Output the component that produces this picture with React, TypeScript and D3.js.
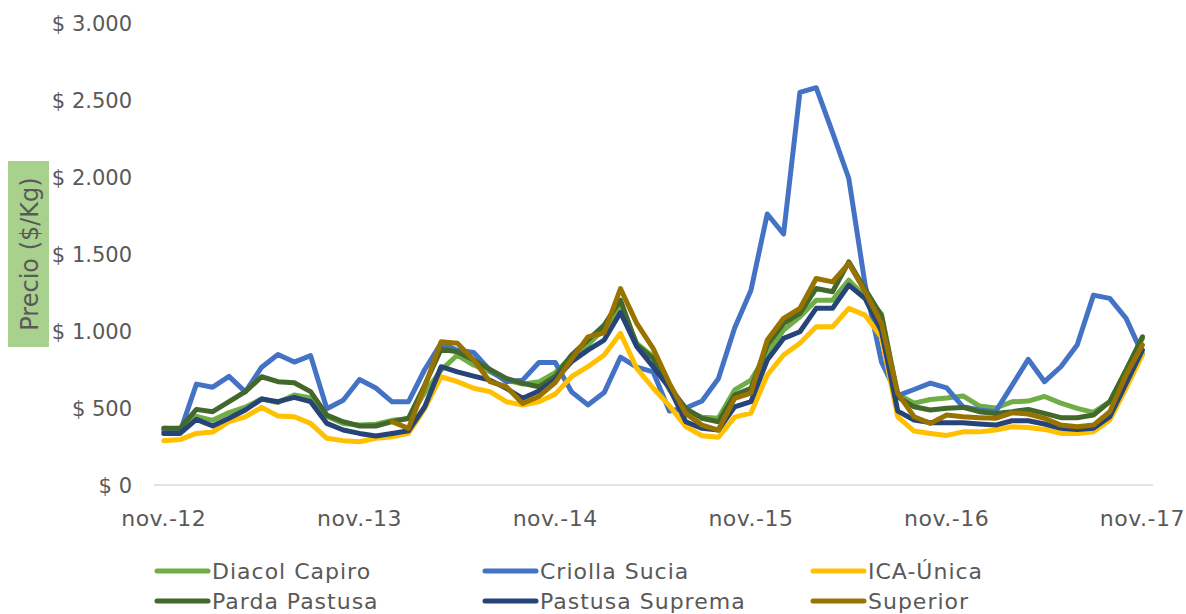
import React, { useEffect, useRef } from "react";
import * as d3 from "d3";

// monthly prices nov-12 .. nov-17 ($/Kg)
const tickLabels = ["nov.-12", "nov.-13", "nov.-14", "nov.-15", "nov.-16", "nov.-17"];
const yTicks = [0, 500, 1000, 1500, 2000, 2500, 3000];

const diacolCapiro = [368, 365, 445, 420, 470, 505, 560, 535, 585, 565, 445, 400, 390, 395, 420, 430, 600, 746, 844, 779, 735, 681, 655, 670, 730, 833, 909, 1017, 1150, 920, 833, 617, 487, 440, 433, 617, 681, 855, 1006, 1092, 1200, 1200, 1330, 1222, 1110, 590, 532, 555, 565, 578, 513, 500, 540, 545, 575, 532, 498, 472, 541, 746, 950];
const criollaSucia = [350, 345, 655, 635, 705, 605, 765, 848, 798, 840, 495, 550, 685, 630, 540, 540, 750, 920, 875, 860, 746, 671, 681, 795, 795, 605, 520, 600, 830, 765, 735, 480, 500, 545, 690, 1020, 1265, 1760, 1630, 2550, 2580, 2290, 1990, 1300, 800, 580, 620, 662, 630, 508, 487, 476, 645, 816, 671, 768, 909, 1233, 1212, 1082, 850];
const icaUnica = [288, 295, 335, 344, 411, 443, 504, 448, 443, 400, 303, 288, 281, 303, 313, 335, 498, 703, 671, 628, 606, 541, 519, 541, 590, 703, 768, 844, 985, 757, 630, 515, 380, 320, 310, 441, 467, 714, 844, 920, 1027, 1027, 1147, 1103, 960, 443, 350, 335, 322, 345, 345, 357, 378, 374, 361, 335, 335, 346, 422, 628, 844];
const pardaPastusa = [368, 368, 491, 476, 541, 606, 703, 671, 664, 606, 454, 411, 383, 383, 411, 433, 649, 881, 865, 811, 751, 692, 660, 638, 705, 844, 941, 1038, 1200, 909, 822, 638, 498, 433, 411, 584, 628, 909, 1049, 1114, 1276, 1255, 1449, 1270, 1100, 573, 508, 487, 498, 504, 476, 465, 476, 491, 465, 437, 437, 454, 541, 746, 962];
const pastusaSuprema = [335, 335, 426, 383, 433, 487, 558, 541, 569, 541, 400, 357, 335, 318, 335, 352, 508, 768, 735, 707, 681, 628, 563, 610, 685, 800, 876, 941, 1120, 898, 768, 630, 411, 368, 357, 508, 541, 811, 952, 995, 1147, 1147, 1298, 1210, 1000, 480, 422, 405, 404, 404, 396, 389, 417, 417, 396, 368, 361, 368, 443, 660, 876];
const superior = [null, null, null, null, null, null, null, null, null, null, null, null, null, null, 411, 368, 640, 930, 920, 811, 671, 638, 530, 575, 665, 816, 962, 988, 1276, 1049, 887, 660, 465, 389, 357, 562, 597, 941, 1082, 1147, 1341, 1319, 1439, 1255, 1050, 595, 443, 400, 455, 443, 437, 433, 469, 461, 433, 389, 378, 389, 476, 714, 909];

const series = [
  { name: "Diacol Capiro", values: diacolCapiro, color: "#70ad47" },
  { name: "Criolla Sucia", values: criollaSucia, color: "#4472c4" },
  { name: "ICA-Única", values: icaUnica, color: "#ffc000" },
  { name: "Parda Pastusa", values: pardaPastusa, color: "#43682b" },
  { name: "Pastusa Suprema", values: pastusaSuprema, color: "#264478" },
  { name: "Superior", values: superior, color: "#997300" },
];

const W = 1186, H = 614;
const FONT = "'DejaVu Sans', sans-serif";
const GREY = "#595959";

export default function App() {
  const ref = useRef<SVGSVGElement>(null);

  useEffect(() => {
    const svg = d3.select(ref.current);
    svg.selectAll("*").remove();

    const x = d3.scaleLinear().domain([-0.6, 60.65]).range([154, 1153]);
    const y = d3.scaleLinear().domain([0, 3000]).range([485, 23]);
    const fmt = (v: number) => "$ " + d3.format(",")(v).replace(/,/g, ".");

    // y labels
    svg.append("g")
      .selectAll("text")
      .data(yTicks)
      .enter()
      .append("text")
      .attr("x", 132)
      .attr("y", (d) => y(d) + 8)
      .attr("text-anchor", "end")
      .style("font-family", FONT)
      .style("font-size", "21px")
      .style("fill", GREY)
      .text(fmt);

    // axis line
    svg.append("line")
      .attr("x1", x.range()[0])
      .attr("x2", x.range()[1])
      .attr("y1", y(0))
      .attr("y2", y(0))
      .style("stroke", "#d9d9d9")
      .style("stroke-width", 1.5);

    // x labels
    svg.append("g")
      .selectAll("text")
      .data(tickLabels)
      .enter()
      .append("text")
      .attr("x", (_, i) => x(i * 12))
      .attr("y", 526)
      .attr("text-anchor", "middle")
      .style("font-family", FONT)
      .style("font-size", "22px")
      .style("letter-spacing", "0.5px")
      .style("fill", GREY)
      .text((d) => d);

    // axis title
    const title = svg.append("g").attr("transform", "translate(29,254) rotate(-90)");
    title.append("rect")
      .attr("x", -93)
      .attr("y", -21)
      .attr("width", 186)
      .attr("height", 41)
      .style("fill", "#a9d18e");
    title.append("text")
      .attr("text-anchor", "middle")
      .attr("y", 9)
      .style("font-family", FONT)
      .style("font-size", "24px")
      .style("fill", GREY)
      .text("Precio ($/Kg)");

    const line = d3.line<number | null>()
      .defined((d) => d != null)
      .x((_, i) => x(i))
      .y((d) => y(d as number));

    svg.append("g")
      .selectAll("path")
      .data(series)
      .enter()
      .append("path")
      .attr("d", (s) => line(s.values))
      .style("fill", "none")
      .style("stroke", (s) => s.color)
      .style("stroke-width", 5)
      .style("stroke-linejoin", "round")
      .style("stroke-linecap", "round");

    // legend
    const cols = [155, 483, 811];
    const rows = [571, 601];
    const leg = svg.append("g")
      .selectAll("g")
      .data(series)
      .enter()
      .append("g")
      .attr("transform", (_, i) => `translate(${cols[i % 3]},${rows[Math.floor(i / 3)]})`);
    leg.append("line")
      .attr("x1", 2)
      .attr("x2", 53)
      .style("stroke", (s) => s.color)
      .style("stroke-width", 5)
      .style("stroke-linecap", "round");
    leg.append("text")
      .attr("x", 57)
      .attr("y", 8)
      .style("font-family", FONT)
      .style("font-size", "22px")
      .style("letter-spacing", "1px")
      .style("fill", GREY)
      .text((s) => s.name);
  }, []);

  return (
    <svg
      ref={ref}
      width={W}
      height={H}
      style={{ position: "absolute", left: 0, top: 0, background: "#fff" }}
    />
  );
}
